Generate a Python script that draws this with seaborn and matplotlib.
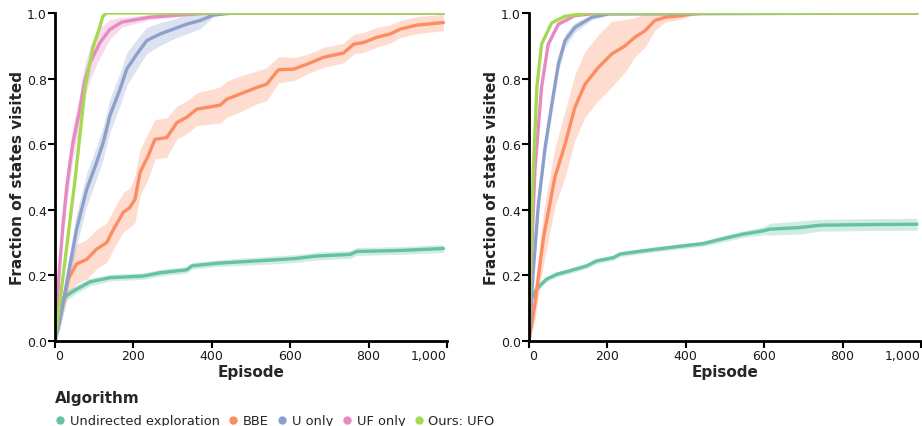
import matplotlib
matplotlib.use("Agg")
import matplotlib.pyplot as plt
from matplotlib.lines import Line2D
from matplotlib.ticker import FuncFormatter
import seaborn as sns
import pandas as pd
import numpy as np

sns.set_theme(style="ticks")
plt.rcParams['font.family'] = ['DejaVu Sans']

ALGOS = ["Undirected exploration", "BBE", "U only", "UF only", "Ours: UFO"]
COLORS = ["#66c2a5", "#fc8d62", "#8da0cb", "#e78ac3", "#a6d854"]

# ---- left panel ----
L_UND_EP = [0, 8, 25, 55, 89, 140, 225, 268, 336, 349, 413, 540, 609, 668, 753, 770, 881, 991]
L_UND_MEAN = [0.0, 0.107, 0.135, 0.158, 0.18, 0.193, 0.198, 0.208, 0.217, 0.229, 0.237, 0.246,
              0.251, 0.259, 0.264, 0.273, 0.276, 0.282]
L_UND_SPREAD = [0.0, 0.02, 0.015, 0.012, 0.012, 0.01, 0.01, 0.01, 0.01, 0.01, 0.01, 0.012,
                0.012, 0.012, 0.012, 0.012, 0.012, 0.012]

L_BBE_EP = [0, 17, 34, 55, 81, 106, 132, 149, 174, 191, 204, 217, 238, 255, 285, 311, 336, 362,
            421, 438, 472, 515, 540, 570, 609, 643, 685, 736, 762, 787, 821, 855, 881, 923, 991]
L_BBE_MEAN = [0.0, 0.097, 0.19, 0.235, 0.249, 0.28, 0.30, 0.34, 0.392, 0.407, 0.432, 0.514, 0.565,
              0.615, 0.62, 0.666, 0.682, 0.707, 0.719, 0.737, 0.753, 0.773, 0.783, 0.827, 0.829,
              0.844, 0.865, 0.878, 0.905, 0.91, 0.926, 0.936, 0.951, 0.963, 0.971]
L_BBE_SPREAD = [0.0, 0.03, 0.05, 0.06, 0.06, 0.06, 0.06, 0.06, 0.06, 0.06, 0.07, 0.07, 0.07,
                0.06, 0.06, 0.05, 0.05, 0.05, 0.055, 0.055, 0.055, 0.05, 0.05, 0.04, 0.035,
                0.03, 0.03, 0.03, 0.03, 0.03, 0.03, 0.028, 0.026, 0.026, 0.025]

L_U_EP = [0, 13, 30, 55, 81, 106, 123, 140, 166, 183, 209, 234, 268, 302, 336, 370, 404, 455, 991]
L_U_MEAN = [0.0, 0.066, 0.178, 0.34, 0.463, 0.544, 0.605, 0.687, 0.768, 0.829, 0.875, 0.916,
            0.936, 0.951, 0.966, 0.977, 0.994, 1.0, 1.0]
L_U_SPREAD = [0.0, 0.03, 0.04, 0.05, 0.05, 0.05, 0.05, 0.05, 0.05, 0.05, 0.045, 0.04, 0.035,
              0.03, 0.03, 0.025, 0.005, 0.0, 0.0]

L_UF_EP = [0, 10, 20, 30, 45, 64, 75, 90, 115, 140, 170, 240, 330, 400, 991]
L_UF_MEAN = [0.0, 0.2, 0.35, 0.47, 0.6, 0.71, 0.79, 0.85, 0.91, 0.95, 0.972, 0.987, 0.995, 1.0, 1.0]
L_UF_SPREAD = [0.0, 0.03, 0.04, 0.05, 0.05, 0.05, 0.05, 0.05, 0.045, 0.03, 0.015, 0.008,
               0.004, 0.0, 0.0]

L_UFO_EP = [0, 25, 51, 77, 97, 115, 122, 132, 991]
L_UFO_MEAN = [0.0, 0.24, 0.49, 0.774, 0.896, 0.96, 0.99, 1.0, 1.0]
L_UFO_SPREAD = [0.0, 0.0, 0.0, 0.0, 0.0, 0.0, 0.0, 0.0, 0.0]

# ---- right panel ----
R_UND_EP = [0, 6, 19, 44, 70, 104, 147, 172, 215, 232, 274, 325, 394, 445, 496, 547, 598, 615,
            692, 743, 870, 990]
R_UND_MEAN = [0.0, 0.127, 0.158, 0.188, 0.203, 0.214, 0.229, 0.244, 0.254, 0.265, 0.272, 0.28,
              0.29, 0.297, 0.312, 0.326, 0.336, 0.341, 0.346, 0.353, 0.355, 0.356]
R_UND_SPREAD = [0.0, 0.01, 0.008, 0.008, 0.008, 0.008, 0.008, 0.008, 0.008, 0.008, 0.008, 0.008,
                0.008, 0.008, 0.01, 0.01, 0.012, 0.018, 0.02, 0.018, 0.018, 0.018]

R_BBE_EP = [0, 15, 37, 66, 92, 117, 143, 177, 211, 245, 270, 296, 321, 347, 389, 415, 450, 990]
R_BBE_MEAN = [0.0, 0.113, 0.316, 0.499, 0.60, 0.712, 0.783, 0.834, 0.875, 0.90, 0.926, 0.946,
              0.977, 0.987, 0.992, 0.997, 1.0, 1.0]
R_BBE_SPREAD = [0.0, 0.05, 0.08, 0.09, 0.1, 0.1, 0.1, 0.1, 0.1, 0.08, 0.06, 0.05, 0.03, 0.015,
                0.01, 0.005, 0.0, 0.0]

R_U_EP = [0, 10, 24, 41, 58, 75, 92, 117, 160, 202, 990]
R_U_MEAN = [0.0, 0.2, 0.418, 0.59, 0.72, 0.845, 0.916, 0.956, 0.987, 0.997, 1.0]
R_U_SPREAD = [0.0, 0.02, 0.03, 0.03, 0.03, 0.025, 0.02, 0.015, 0.008, 0.003, 0.0]

R_UF_EP = [0, 6, 15, 32, 49, 75, 117, 180, 990]
R_UF_MEAN = [0.0, 0.25, 0.52, 0.773, 0.905, 0.966, 0.992, 1.0, 1.0]
R_UF_SPREAD = [0.0, 0.02, 0.02, 0.015, 0.01, 0.005, 0.002, 0.0, 0.0]

R_UFO_EP = [0, 5, 11, 20, 32, 58, 92, 150, 990]
R_UFO_MEAN = [0.0, 0.28, 0.52, 0.773, 0.905, 0.97, 0.99, 1.0, 1.0]
R_UFO_SPREAD = [0.0, 0.0, 0.0, 0.0, 0.0, 0.0, 0.0, 0.0, 0.0]

X_TICKS = [0, 200, 400, 600, 800, 1000]
Y_TICKS = [0.0, 0.2, 0.4, 0.6, 0.8, 1.0]

left_series = [(L_UND_EP, L_UND_MEAN, L_UND_SPREAD), (L_BBE_EP, L_BBE_MEAN, L_BBE_SPREAD),
               (L_U_EP, L_U_MEAN, L_U_SPREAD), (L_UF_EP, L_UF_MEAN, L_UF_SPREAD),
               (L_UFO_EP, L_UFO_MEAN, L_UFO_SPREAD)]
right_series = [(R_UND_EP, R_UND_MEAN, R_UND_SPREAD), (R_BBE_EP, R_BBE_MEAN, R_BBE_SPREAD),
                (R_U_EP, R_U_MEAN, R_U_SPREAD), (R_UF_EP, R_UF_MEAN, R_UF_SPREAD),
                (R_UFO_EP, R_UFO_MEAN, R_UFO_SPREAD)]


def to_frame(series):
    parts = []
    for name, (ep, mean, spread) in zip(ALGOS, series):
        parts.append(pd.DataFrame({"Episode": ep, "Fraction": mean, "Spread": spread,
                                   "Algorithm": name}))
    return pd.concat(parts, ignore_index=True)


fig = plt.figure(figsize=(9.22, 4.27), dpi=100)
ax_l = fig.add_axes([55 / 922, 85 / 427, 392 / 922, 328 / 427])
ax_r = fig.add_axes([529 / 922, 85 / 427, 392 / 922, 328 / 427])

for ax, series in [(ax_l, left_series), (ax_r, right_series)]:
    df = to_frame(series)
    for name, color in zip(ALGOS, COLORS):
        sub = df[df["Algorithm"] == name]
        lo = np.clip(sub["Fraction"] - sub["Spread"], 0, 1)
        hi = np.clip(sub["Fraction"] + sub["Spread"], 0, 1)
        ax.fill_between(sub["Episode"], lo, hi, color=color, alpha=0.3, linewidth=0)
    sns.lineplot(data=df, x="Episode", y="Fraction", hue="Algorithm", hue_order=ALGOS,
                 palette=COLORS, errorbar=None, linewidth=2.4, legend=False, ax=ax)
    ax.set_xlim(0, 1000)
    ax.set_ylim(0, 1)
    ax.set_xticks(X_TICKS)
    ax.set_yticks(Y_TICKS)
    ax.xaxis.set_major_formatter(FuncFormatter(lambda v, p: f"{int(v):,}"))
    ax.yaxis.set_major_formatter(FuncFormatter(lambda v, p: f"{v:.1f}"))
    ax.set_xlabel("Episode", fontsize=11, fontweight="bold", labelpad=1)
    ax.set_ylabel("Fraction of states visited", fontsize=11, fontweight="bold", labelpad=1)
    ax.tick_params(axis="both", labelsize=9, length=5, width=1.5, color="black",
                   labelcolor="#1a1a1a", pad=1)
    for s in ["top", "right"]:
        ax.spines[s].set_visible(False)
    for s in ["left", "bottom"]:
        ax.spines[s].set_linewidth(2)
        ax.spines[s].set_color("black")
    ax.grid(False)
    labels = ax.get_xticklabels()
    labels[0].set_horizontalalignment("left")
    labels[-1].set_horizontalalignment("right")

handles = [Line2D([], [], linestyle="", marker="o", markersize=5, color=c) for c in COLORS]
leg = fig.legend(handles, ALGOS, title="Algorithm", loc="upper left",
                 bbox_to_anchor=(55 / 922, 1 - 391 / 427), ncol=5, frameon=False,
                 alignment="left", fontsize=9.4, borderpad=0, borderaxespad=0,
                 handlelength=0.8, handletextpad=0.35, columnspacing=0.62, labelspacing=0.7,
                 title_fontproperties={"weight": "bold", "size": 11})

fig.savefig("out.png", dpi=100)
